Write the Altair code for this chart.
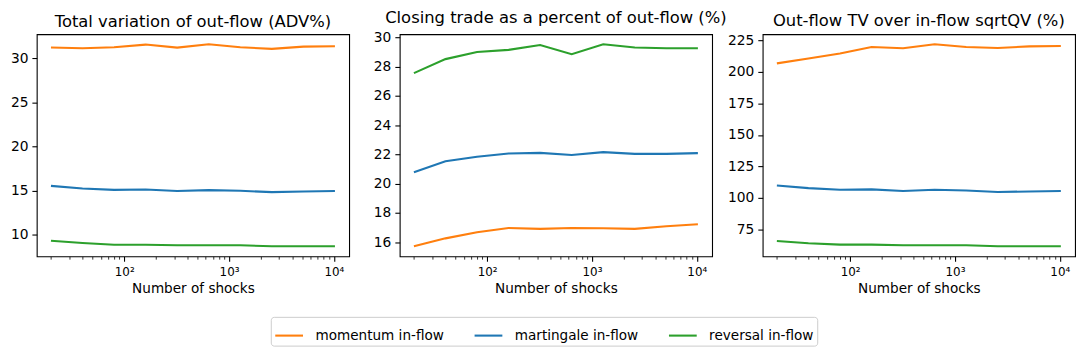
import altair as alt
import pandas as pd
import math

shocks = [20, 40, 80, 160, 320, 640, 1280, 2560, 5120, 10240]
series_names = ["momentum in-flow", "martingale in-flow", "reversal in-flow"]
colors = ["#ff7f0e", "#1f77b4", "#2ca02c"]

tv_momentum = [31.23, 31.16, 31.27, 31.57, 31.23, 31.60, 31.27, 31.08, 31.34, 31.38]
tv_martingale = [15.52, 15.22, 15.07, 15.11, 14.93, 15.04, 14.96, 14.81, 14.89, 14.93]
tv_reversal = [9.29, 9.03, 8.84, 8.84, 8.77, 8.77, 8.77, 8.66, 8.66, 8.66]

ct_momentum = [15.73, 16.27, 16.69, 16.98, 16.92, 16.98, 16.96, 16.92, 17.10, 17.23]
ct_martingale = [20.79, 21.53, 21.84, 22.07, 22.11, 21.96, 22.16, 22.04, 22.04, 22.09]
ct_reversal = [27.55, 28.51, 29.00, 29.14, 29.47, 28.85, 29.52, 29.30, 29.25, 29.25]

r_momentum = [206.8, 210.7, 214.6, 219.8, 218.8, 221.9, 219.8, 219.0, 220.3, 220.6]
r_martingale = [109.9, 107.8, 106.5, 106.8, 105.5, 106.5, 106.0, 104.7, 105.2, 105.5]
r_reversal = [65.9, 64.1, 63.0, 63.0, 62.5, 62.5, 62.5, 61.7, 61.7, 61.7]

titles = [
    "Total variation of out-flow (ADV%)",
    "Closing trade as a percent of out-flow (%)",
    "Out-flow TV over in-flow sqrtQV (%)",
]
y_ticks = [
    [10, 15, 20, 25, 30],
    [16, 18, 20, 22, 24, 26, 28, 30],
    [75, 100, 125, 150, 175, 200, 225],
]
x_ticks = [20, 30, 40, 50, 60, 70, 80, 90, 100, 200, 300, 400, 500, 600, 700, 800, 900,
           1000, 2000, 3000, 4000, 5000, 6000, 7000, 8000, 9000, 10000]
x_title = "Number of shocks"

panels = [
    [tv_momentum, tv_martingale, tv_reversal],
    [ct_momentum, ct_martingale, ct_reversal],
    [r_momentum, r_martingale, r_reversal],
]

FONT = "DejaVu Sans"
lx0, lx1 = math.log10(min(shocks)), math.log10(max(shocks))
xm = 0.05 * (lx1 - lx0)
x_domain = [10 ** (lx0 - xm), 10 ** (lx1 + xm)]

label_expr = ("datum.value == 100 ? '10²' : datum.value == 1000 ? '10³' : "
              "datum.value == 10000 ? '10⁴' : ''")
major_test = "datum.value == 100 || datum.value == 1000 || datum.value == 10000"

charts = []
for title, series, yt in zip(titles, panels, y_ticks):
    rows = []
    for name, vals in zip(series_names, series):
        for s, v in zip(shocks, vals):
            rows.append({"shocks": s, "value": v, "series": name})
    df = pd.DataFrame(rows)
    allv = [v for vals in series for v in vals]
    lo, hi = min(allv), max(allv)
    m = 0.05 * (hi - lo)
    ydom = [lo - m, hi + m]
    ch = alt.Chart(df, title=alt.Title(title, fontSize=16.5, font=FONT, fontWeight="normal",
                                        color="black", offset=4)).mark_line(
        strokeWidth=2.1, clip=True
    ).encode(
        x=alt.X("shocks:Q", scale=alt.Scale(type="log", domain=x_domain, nice=False),
                axis=alt.Axis(values=x_ticks, labelExpr=label_expr, title=x_title,
                              labelOverlap=False, labelBound=False, labelFlush=False,
                              labelFontSize=12,
                              tickSize={"condition": {"test": major_test, "value": 4.9}, "value": 2.8},
                              tickWidth={"condition": {"test": major_test, "value": 1.1}, "value": 0.8},
                              labelPadding=5, titlePadding=5)),
        y=alt.Y("value:Q", scale=alt.Scale(domain=ydom, nice=False, zero=False),
                axis=alt.Axis(values=yt, title=None, tickSize=4.9, tickWidth=1.1,
                              labelPadding=4, labelFontSize=13.9)),
        color=alt.Color("series:N", scale=alt.Scale(domain=series_names, range=colors),
                        sort=series_names,
                        legend=alt.Legend(title=None, orient="none", legendX=236, legendY=285,
                                          direction="horizontal", symbolType="stroke",
                                          symbolSize=784, symbolStrokeWidth=2.1,
                                          labelFontSize=13.7, labelFont=FONT, labelColor="black",
                                          labelOffset=11, columnPadding=26,
                                          strokeColor="#cccccc", cornerRadius=3, padding=3,
                                          fillColor="white")),
    ).properties(width=315, height=224)
    charts.append(ch)

chart = alt.hconcat(*charts, spacing=51, bounds="flush").resolve_scale(
    y="independent", color="shared"
).properties(
    padding={"left": 1, "top": 0, "right": 5, "bottom": 5}
).configure_view(
    stroke="black", strokeWidth=1.1
).configure_axis(
    domain=False, grid=False, labelFont=FONT, labelColor="black",
    tickColor="black", titleFont=FONT, titleFontSize=13.7, titleColor="black",
    titleFontWeight="normal"
)

chart.save("out.html", embed_options={"renderer": "svg", "actions": False})
